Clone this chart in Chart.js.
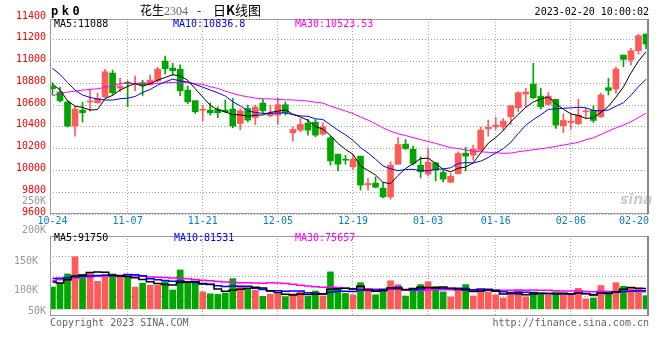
<!DOCTYPE html>
<html><head><meta charset="utf-8">
<script src="https://cdn.jsdelivr.net/npm/chart.js@4.4.1/dist/chart.umd.min.js"></script>
<style>
html,body{margin:0;padding:0;background:#fff;}
#wrap{position:relative;width:660px;height:360px;overflow:hidden;background:#fff;}
#wrap canvas{position:absolute;left:0;}
.t{position:absolute;white-space:nowrap;font-family:'DejaVu Sans Mono',monospace;font-size:10px;line-height:12px;height:12px;}
.cjk{font-family:'Noto Sans CJK SC',sans-serif;line-height:14px;height:14px;}
</style></head>
<body>
<div id="wrap">
  <canvas id="kc" width="660" height="232" style="top:0px"></canvas>
  <canvas id="vc" width="660" height="100" style="top:226px"></canvas>

  <div class="t" style="left:51px;top:4px;font-weight:bold;font-size:12px;line-height:14px;height:14px;letter-spacing:3.5px;">pk0</div>
  <div class="t cjk" style="left:140px;top:3px;font-size:12px;">花生<span style="font-family:'Liberation Serif',serif;color:#666;font-size:12px;">2304</span></div>
  <div class="t cjk" style="left:197px;top:3px;font-size:12px;">-</div>
  <div class="t cjk" style="left:213px;top:3px;font-size:13px;">日<b>K</b>线图</div>
  <div class="t" style="right:11px;top:6px;color:#000;">2023-02-20 10:00:02</div>

  <div class="t" style="right:614px;top:10px;color:#ff0000;">11400</div>
  <div class="t" style="left:54px;top:18px;color:#000;">MA5:11088</div>
  <div class="t" style="left:173px;top:18px;color:#0000ff;">MA10:10836.8</div>
  <div class="t" style="left:295px;top:18px;color:#ff00ff;">MA30:10523.53</div>
  <div class="t" style="right:614px;top:195px;color:#999;">250K</div>
  <div class="t" style="left:620px;top:192px;font-family:'DejaVu Sans',sans-serif;font-style:italic;font-weight:bold;font-size:14px;line-height:14px;color:rgba(160,160,160,0.55);">sina</div>

  <div class="t" style="right:614px;top:224px;color:#999;">200K</div>
  <div class="t" style="right:614px;top:305px;color:#999;">50K</div>
  <div class="t" style="left:54px;top:232px;color:#000;">MA5:91750</div>
  <div class="t" style="left:174px;top:232px;color:#0000ff;">MA10:81531</div>
  <div class="t" style="left:295px;top:232px;color:#ff00ff;">MA30:75657</div>

  <div class="t" style="left:50px;top:317px;color:#666;">Copyright 2023 SINA.COM</div>
  <div class="t" style="right:11px;top:317px;color:#666;">http://finance.sina.com.cn</div>
</div>
<script>
// ---------- data ----------
const dates = ['10-24','10-25','10-26','10-27','10-28','10-31',
 '11-01','11-02','11-03','11-04','11-07','11-08','11-09','11-10','11-11',
 '11-14','11-15','11-16','11-17','11-18','11-21','11-22','11-23','11-24','11-25',
 '11-28','11-29','11-30','12-01','12-02','12-05','12-06','12-07','12-08','12-09',
 '12-12','12-13','12-14','12-15','12-16','12-19','12-20','12-21','12-22','12-23',
 '12-26','12-27','12-28','12-29','12-30','01-03','01-04','01-05','01-06',
 '01-09','01-10','01-11','01-12','01-13','01-16','01-17','01-18','01-19','01-20',
 '01-30','01-31','02-01','02-02','02-03','02-06','02-07','02-08','02-09','02-10',
 '02-13','02-14','02-15','02-16','02-17','02-20'];
const tickDates = ['10-24','11-07','11-21','12-05','12-19','01-03','01-16','02-06','02-20'];
const priceTicks = [9600,9800,10000,10200,10400,10600,10800,11000,11200];
const volTicks = [100000,150000];

const opens = [10768,10719,10627,10407,10554,10628,10621,10676,10894,10756,
 10805,10790,10805,10786,10823,11004,10940,10930,10737,10640,
 10552,10554,10560,10554,10563,10431,10569,10486,10618,10502,
 10508,10603,10345,10370,10434,10443,10333,10299,10149,10103,
 10033,10131,9868,9883,9837,9757,10057,10241,10195,10048,
 9966,10070,9981,9892,9969,10158,10140,10186,10382,10400,
 10400,10493,10575,10701,10793,10682,10606,10652,10410,10440,
 10428,10538,10551,10492,10759,10747,11059,11013,11099,11252];
const highs = [10805,10762,10640,10590,10627,10744,10710,10930,10921,10845,
 10823,10866,10829,10875,10946,11050,10983,10970,10774,10640,
 10598,10621,10584,10646,10661,10566,10600,10600,10652,10596,
 10661,10630,10400,10477,10468,10468,10437,10315,10149,10140,
 10140,10131,9926,9941,9889,10079,10302,10284,10223,10125,
 10207,10070,10002,9972,10171,10211,10232,10400,10462,10486,
 10477,10594,10722,10753,10983,10753,10716,10652,10520,10520,
 10652,10575,10594,10707,10845,10949,11059,11120,11249,11252];
const lows = [10692,10627,10398,10315,10443,10545,10618,10667,10692,10722,
 10584,10731,10688,10783,10814,10885,10875,10685,10612,10523,
 10456,10508,10483,10529,10391,10373,10446,10419,10523,10492,
 10422,10508,10269,10355,10324,10309,10324,10048,9996,10057,
 10012,9819,9819,9840,9748,9736,10057,10192,10048,9932,
 9947,9904,9895,9886,9969,9996,10094,10180,10315,10376,
 10370,10422,10538,10581,10661,10563,10594,10385,10348,10379,
 10422,10486,10440,10486,10692,10707,10952,10967,11068,11117];
const closes = [10750,10639,10407,10563,10529,10634,10661,10906,10713,10774,
 10800,10799,10780,10829,10930,10934,10915,10731,10630,10538,
 10558,10529,10529,10538,10407,10548,10462,10581,10548,10526,
 10603,10529,10376,10422,10370,10324,10400,10088,10057,10094,
 10103,9865,9880,9846,9757,10048,10238,10201,10064,9987,
 10076,10002,9920,9947,10155,10131,10195,10370,10397,10416,
 10453,10594,10713,10719,10667,10584,10682,10416,10459,10453,
 10508,10547,10459,10692,10735,10930,11019,11099,11237,11160];

const ma5 = [10790,10740,10640,10590,10578,10554,10559,10659,10689,10738,
 10771,10798,10773,10796,10828,10854,10878,10868,10828,10750,
 10674,10597,10557,10538,10512,10510,10497,10507,10509,10533,
 10544,10557,10516,10491,10460,10404,10378,10321,10248,10193,
 10148,10041,10000,9958,9890,9879,9954,10018,10062,10108,
 10113,10066,10010,9986,10020,10031,10070,10160,10250,10302,
 10366,10446,10515,10579,10629,10655,10673,10614,10562,10519,
 10504,10477,10485,10532,10588,10673,10767,10895,11004,11088];
const ma10 = [10937,10881,10808,10737,10692,10670,10655,10646,10646,10658,
 10663,10679,10716,10743,10783,10813,10838,10821,10812,10789,
 10764,10738,10713,10683,10631,10592,10547,10532,10524,10523,
 10527,10527,10512,10500,10497,10474,10468,10419,10370,10327,
 10276,10210,10161,10103,10042,10014,9998,10009,10010,9999,
 9996,10010,10014,10024,10064,10072,10068,10085,10118,10161,
 10199,10258,10338,10415,10466,10511,10560,10565,10571,10574,
 10580,10575,10550,10547,10554,10589,10622,10690,10768,10837];
const ma30 = [10685,10707,10719,10728,10737,10744,10750,10762,10780,10796,
 10799,10799,10799,10799,10799,10805,10808,10808,10805,10796,
 10790,10768,10753,10728,10707,10688,10676,10664,10658,10657,
 10651,10648,10647,10642,10637,10626,10618,10590,10568,10546,
 10522,10491,10462,10429,10390,10360,10337,10320,10301,10283,
 10266,10249,10229,10209,10201,10187,10178,10171,10166,10162,
 10157,10159,10171,10181,10190,10199,10208,10220,10233,10245,
 10258,10281,10300,10329,10361,10390,10417,10447,10486,10524];

const volumes = [105300,112000,128000,157700,126400,128800,115200,126900,128000,123000,
 124000,105300,112000,108300,108600,114600,100200,134800,112700,112700,
 97000,93600,92500,95000,119800,107200,102600,99600,89200,93000,
 94200,88700,93600,97000,89300,98500,90000,131500,103000,94200,
 91900,112800,99700,91900,97500,116100,109500,89800,100200,109500,
 114500,106300,96900,88200,103000,109500,89800,101300,96900,91900,
 86500,94200,99700,88200,96900,94200,91900,96900,91900,91900,
 103000,84900,86500,107900,93100,112800,106700,103000,101300,90300];
const volMa5 = [114000,112300,117800,124300,125900,130600,131200,131000,125100,124400,
 123400,121400,118500,114500,111600,109800,108700,113300,114200,115000,
 111500,110200,101700,98200,99600,101600,103400,104800,103700,98300,
 95700,92900,91700,93300,92600,93400,93700,101300,102500,103400,
 102100,106700,100300,98100,98800,103600,102900,101000,102600,105000,
 104700,104100,105500,103100,101800,100800,97500,98400,100100,97900,
 93300,94200,93800,92100,93100,94600,94200,93600,94400,93400,
 95100,93700,91600,94800,95100,97000,101400,104700,103400,102800];
const volMa10 = [120000,120500,121500,123000,124000,124500,125000,125500,125500,125100,
 127000,126300,124700,119800,118000,116600,115100,115900,114400,113300,
 110600,109500,107500,106200,107300,106600,106800,103300,100900,99000,
 98700,98200,98300,98500,95400,94600,93300,96500,97900,98000,
 97800,100200,100800,100300,101100,102900,104800,100600,100400,101900,
 104200,103500,103200,102900,103400,102700,100800,101900,101600,99800,
 97000,95800,96100,96100,95500,94000,94200,93700,93200,93200,
 94900,94000,92600,94600,94200,96100,97600,98200,99100,99000];
const volMa30 = [116100,117800,119400,121000,122700,123200,123900,124300,124300,124300,
 124300,124300,123900,122700,122200,121600,121000,120500,119400,118300,
 117200,116100,115000,113900,113400,112800,112800,112300,111700,112500,
 112100,111300,110200,108200,106900,105900,105100,105200,104400,103400,
 102400,102600,102200,101600,101300,101300,101600,100100,99700,99600,
 100200,100600,100800,100500,100000,100100,99600,99700,99900,99900,
 99700,99800,100000,99700,100000,99900,99900,98800,98400,98300,
 98700,97800,97300,97900,97700,97600,97500,97900,98000,97300];

// ---------- styling ----------
const UP = '#ff5a5a', DOWN = '#00a600';
const GRID = '#a8a8a8';
const MONO = "'DejaVu Sans Mono', monospace";
const X_MIN = -0.33, X_MAX = 79.4;
const isUp = i => closes[i] >= opens[i];
const colorOf = c => isUp(c.dataIndex) ? UP : DOWN;
const pts = arr => arr.map((v, i) => ({x: i, y: v}));
const tickIdx = tickDates.map(d => dates.indexOf(d));

function xAxis() {
  return {
    type: 'linear', min: X_MIN, max: X_MAX, offset: false,
    grid: {offset: false, drawTicks: false, lineWidth: 1,
      color: c => (c.index === 0 || c.index === tickIdx.length - 1) ? 'rgba(0,0,0,0)' : GRID},
    border: {display: false, dash: [1, 2]},
    ticks: {display: false},
    afterBuildTicks: s => { s.ticks = tickIdx.map(v => ({value: v})); },
    afterFit: s => { s.height = 0; }
  };
}

const framePlugin = {
  id: 'frame',
  afterDatasetsDraw(chart) {
    const {ctx, chartArea: a} = chart;
    const l = Math.round(a.left), r = Math.round(a.right), t = Math.round(a.top), b = Math.round(a.bottom);
    ctx.save();
    ctx.strokeStyle = '#9a9a9a'; ctx.lineWidth = 1;
    ctx.strokeRect(l + 0.5, t + 0.5, r - l - 1, b - t - 1);
    ctx.strokeStyle = '#888'; ctx.lineWidth = 2;
    ctx.beginPath(); ctx.moveTo(r - 1, t); ctx.lineTo(r - 1, b); ctx.stroke();
    ctx.restore();
  }
};

const xLabelPlugin = {
  id: 'xlabels',
  afterDraw(chart) {
    const s = chart.scales.x, ctx = chart.ctx;
    ctx.save();
    ctx.font = '10px ' + MONO; ctx.fillStyle = '#0a7ec8';
    ctx.textAlign = 'center'; ctx.textBaseline = 'middle';
    tickDates.forEach((d, k) => {
      const w = ctx.measureText(d).width;
      let px = s.getPixelForValue(tickIdx[k]);
      px = Math.min(px, s.right - w / 2);
      ctx.fillText(d, px, chart.chartArea.bottom + 7.5);
    });
    ctx.restore();
  }
};

const lineDs = (data, color, w, stepped) => ({
  type: 'line', data: pts(data), borderColor: color, borderWidth: w,
  pointRadius: 0, tension: 0, stepped: stepped || false, order: 0
});

// ---------- K-line chart ----------
new Chart(document.getElementById('kc'), {
  type: 'bar',
  data: {datasets: [
    lineDs(ma5, '#000000', 1),
    lineDs(ma10, '#0000ff', 1),
    lineDs(ma30, '#ff00ff', 1),
    {label: 'body', data: opens.map((o, i) => ({x: i, y: [o, closes[i]]})),
     backgroundColor: colorOf, barThickness: 6, grouped: false, minBarLength: 1, borderWidth: 0, order: 1},
    {label: 'wick', data: lows.map((l, i) => ({x: i, y: [l, highs[i]]})),
     backgroundColor: colorOf, barThickness: 1, grouped: false, borderWidth: 0, order: 2}
  ]},
  options: {
    responsive: false, animation: false, devicePixelRatio: 1,
    layout: {padding: {left: 0, right: 11, top: 19, bottom: 18}},
    plugins: {legend: {display: false}, tooltip: {enabled: false}},
    scales: {
      x: xAxis(),
      y: {type: 'linear', position: 'left', min: 9600, max: 11390,
        grid: {color: GRID, drawTicks: false, lineWidth: 1},
        border: {display: false, dash: [1, 2]},
        ticks: {color: '#ff0000', font: {family: MONO, size: 10}, padding: 4, labelOffset: -2,
          callback: v => String(v)},
        afterBuildTicks: s => { s.ticks = priceTicks.map(v => ({value: v})); },
        afterFit: s => { s.width = 50; }}
    }
  },
  plugins: [framePlugin, xLabelPlugin]
});

// ---------- volume chart ----------
new Chart(document.getElementById('vc'), {
  type: 'bar',
  data: {datasets: [
    lineDs(volMa5, '#000000', 1.5, 'middle'),
    lineDs(volMa10, '#0000ff', 1.5, 'middle'),
    lineDs(volMa30, '#ff00ff', 1.5, 'middle'),
    {label: 'vol', data: pts(volumes), backgroundColor: colorOf, barThickness: 6,
     grouped: false, base: 67600, borderWidth: 0, order: 1}
  ]},
  options: {
    responsive: false, animation: false, devicePixelRatio: 1,
    layout: {padding: {left: 0, right: 11, top: 8, bottom: 8}},
    plugins: {legend: {display: false}, tooltip: {enabled: false}},
    scales: {
      x: xAxis(),
      y: {type: 'linear', position: 'left', min: 55300, max: 193400,
        grid: {display: false}, border: {display: false},
        ticks: {color: '#999', font: {family: MONO, size: 10}, padding: 4,
          callback: v => (v / 1000) + 'K'},
        afterBuildTicks: s => { s.ticks = volTicks.map(v => ({value: v})); },
        afterFit: s => { s.width = 50; }},
      yg: {type: 'linear', position: 'right', min: 0, max: 4,
        grid: {color: GRID, drawTicks: false, lineWidth: 1},
        border: {display: false, dash: [1, 2]},
        ticks: {display: false},
        afterBuildTicks: s => { s.ticks = [1, 2, 3].map(v => ({value: v})); },
        afterFit: s => { s.width = 0; }}
    }
  },
  plugins: [framePlugin]
});
</script>
</body></html>
